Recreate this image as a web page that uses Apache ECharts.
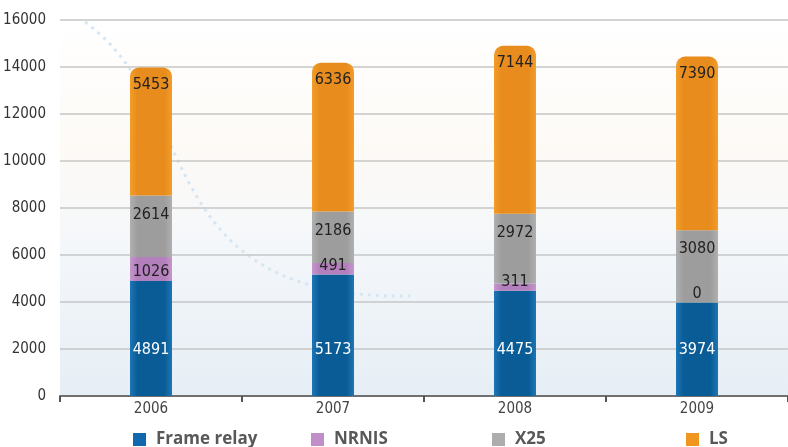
<!DOCTYPE html>
<html>
<head>
<meta charset="utf-8">
<script src="https://cdn.jsdelivr.net/npm/echarts@6/dist/echarts.min.js"></script>
<style>
  html, body { margin: 0; padding: 0; background: #fff; }
  #chart { width: 788px; height: 447px; }
</style>
</head>
<body>
<div id="chart"></div>
<script>
// Traffic volume per service, stacked per year
const years = ['2006', '2007', '2008', '2009'];
const frameRelay = [4891, 5173, 4475, 3974];
const nrnis = [1026, 491, 311, 0];
const x25 = [2614, 2186, 2972, 3080];
const ls = [5453, 6336, 7144, 7390];
const yTicks = { min: 0, max: 16000, step: 2000 };

// Condensed face for numbers
const narrowFamily = "'DejaVu Sans', sans-serif";
const narrowWeight = 'normal condensed';

// Horizontal shading so each column looks slightly rounded
function shade(edge, base) {
  return {
    type: 'linear', x: 0, y: 0, x2: 1, y2: 0,
    colorStops: [
      { offset: 0, color: edge },
      { offset: 0.18, color: base },
      { offset: 0.82, color: base },
      { offset: 1, color: edge }
    ]
  };
}

const palette = {
  frame: { base: '#0a5c96', edge: '#1d76b6', key: '#1169ad' },
  nrnis: { base: '#b47fbd', edge: '#c497cb', key: '#c08ec8' },
  x25:   { base: '#9d9d9d', edge: '#b0b0b0', key: '#adadad' },
  ls:    { base: '#e78c1d', edge: '#f39d2a', key: '#f0961e' }
};

function legendAt(name, left, color) {
  return {
    data: [{ name: name, itemStyle: { color: color } }],
    left: left, top: 426,
    itemWidth: 13, itemHeight: 13,
    icon: 'rect',
    selectedMode: false,
    textStyle: {
      color: '#585858', fontSize: 17, fontWeight: 'bold',
      fontFamily: "'Open Sans', sans-serif", padding: [0, 0, 0, 5]
    }
  };
}

const labelBase = {
  show: true, fontFamily: narrowFamily, fontWeight: narrowWeight,
  fontSize: 16, color: '#222'
};

const chart = echarts.init(document.getElementById('chart'), null, { renderer: 'canvas' });
chart.setOption({
  animation: false,
  backgroundColor: '#ffffff',
  graphic: {
    elements: [
      {
        type: 'rect', z: -10, silent: true,
        shape: { x: 60, y: 20, width: 728, height: 376 },
        style: {
          fill: {
            type: 'linear', x: 0, y: 0, x2: 0, y2: 1,
            colorStops: [
              { offset: 0, color: '#ffffff' },
              { offset: 0.35, color: '#fdfaf6' },
              { offset: 0.6, color: '#f4f7fa' },
              { offset: 1, color: '#e6eef5' }
            ]
          }
        }
      },
      {
        type: 'bezierCurve', z: -9, silent: true,
        shape: { x1: 85, y1: 22, cpx1: 205, cpy1: 110, cpx2: 150, cpy2: 300, x2: 410, y2: 296 },
        style: { stroke: '#d6e6f2', lineWidth: 3, lineDash: [3, 5], fill: null }
      }
    ]
  },
  grid: { left: 60, right: -8, top: 20, bottom: 51 },
  legend: [
    legendAt('Frame relay', 128, palette.frame.key),
    legendAt('NRNIS', 306, palette.nrnis.key),
    legendAt('X25', 487, palette.x25.key),
    legendAt('LS', 681, palette.ls.key)
  ],
  xAxis: {
    type: 'category',
    data: years,
    axisLine: { lineStyle: { color: '#707070', width: 2 } },
    axisTick: { show: true, length: 6, lineStyle: { color: '#555', width: 2 } },
    axisLabel: { color: '#444', fontSize: 15, fontFamily: narrowFamily, fontWeight: narrowWeight, margin: 6 }
  },
  yAxis: {
    type: 'value',
    min: yTicks.min, max: yTicks.max, interval: yTicks.step,
    axisLine: { show: false },
    axisTick: { show: false },
    axisLabel: {
      color: '#333', fontSize: 15, fontFamily: narrowFamily, fontWeight: narrowWeight, margin: 14,
      formatter: function (v) { return String(v); }
    },
    splitLine: { lineStyle: { color: '#c6c6c6', width: 1.5 } }
  },
  series: [
    {
      name: 'Frame relay', type: 'bar', stack: 'total', barWidth: 42,
      data: frameRelay,
      itemStyle: { color: shade(palette.frame.edge, palette.frame.base) },
      label: Object.assign({}, labelBase, { position: 'insideBottom', distance: 38, color: '#ffffff' })
    },
    {
      name: 'NRNIS', type: 'bar', stack: 'total', barWidth: 42,
      data: nrnis,
      itemStyle: { color: shade(palette.nrnis.edge, palette.nrnis.base) },
      label: Object.assign({}, labelBase, { position: 'insideBottom', distance: 1 })
    },
    {
      name: 'X25', type: 'bar', stack: 'total', barWidth: 42,
      data: x25,
      itemStyle: { color: shade(palette.x25.edge, palette.x25.base) },
      label: Object.assign({}, labelBase, { position: 'insideTop', distance: 11 })
    },
    {
      name: 'LS', type: 'bar', stack: 'total', barWidth: 42,
      data: ls,
      itemStyle: { color: shade(palette.ls.edge, palette.ls.base), borderRadius: [9, 9, 0, 0] },
      label: Object.assign({}, labelBase, { position: 'insideTop', distance: 9 })
    }
  ]
});
</script>
</body>
</html>
